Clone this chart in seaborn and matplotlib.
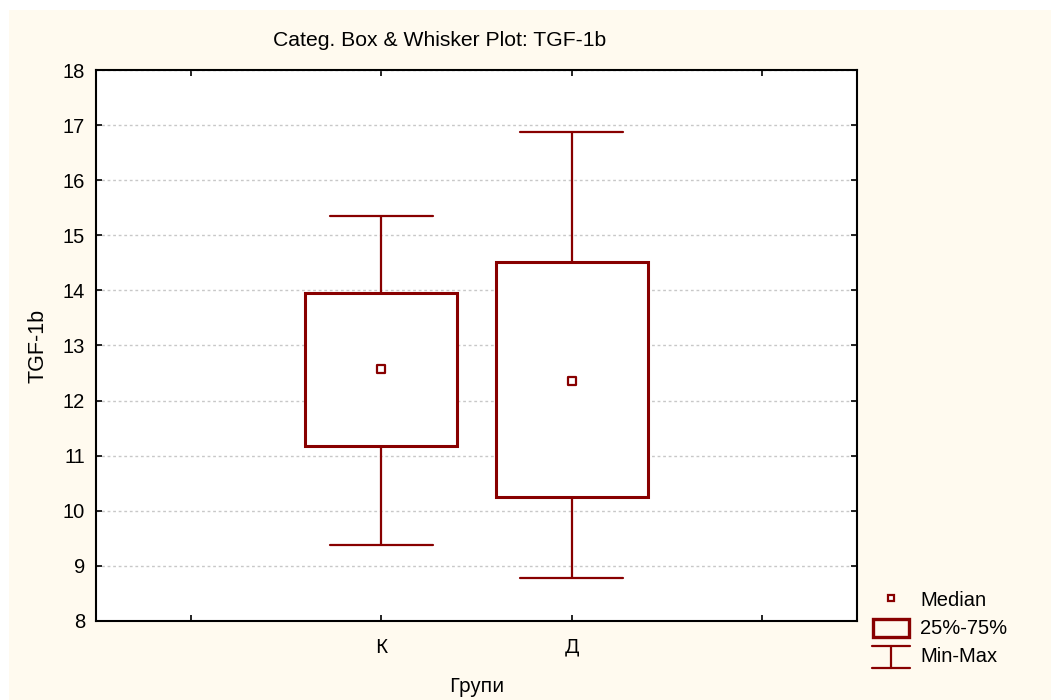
import numpy as np
import pandas as pd
import seaborn as sns
import matplotlib.pyplot as plt
from matplotlib.patches import Rectangle
from matplotlib.lines import Line2D

# Box & whisker summary: min, q1, median, q3, max
groups = ['К', 'Д']
k_stats = [9.38, 11.18, 12.57, 13.95, 15.35]
d_stats = [8.78, 10.25, 12.36, 14.52, 16.87]
medians = [k_stats[2], d_stats[2]]
y_ticks = list(range(8, 19))

dark_red = '#880000'
cream = '#FFFAEF'

# five points per group give exactly these quartiles with linear interpolation
df = pd.DataFrame({
    'group': ['К'] * 5 + ['Д'] * 5,
    'TGF-1b': k_stats + d_stats,
})
med_df = pd.DataFrame({'group': groups, 'median': medians})

sns.set_style('white')
plt.rcParams['font.family'] = ['Liberation Sans', 'DejaVu Sans']
plt.rcParams['font.size'] = 14.5
for key in ('text.color', 'axes.labelcolor', 'xtick.color', 'ytick.color'):
    plt.rcParams[key] = 'black'
cyr = ['Noto Sans', 'DejaVu Sans']

W, H = 1051, 700
fig = plt.figure(figsize=(W / 100, H / 100), dpi=100, facecolor='white')
fig.add_artist(Rectangle((9 / W, 0), 1, 1 - 10 / H, transform=fig.transFigure,
                         facecolor=cream, edgecolor='none', zorder=-10))

ax = fig.add_axes([96 / W, 1 - 621 / H, (857 - 96) / W, (621 - 70) / H])
ax.set_facecolor('white')

sns.boxplot(data=df, x='group', y='TGF-1b', order=groups, ax=ax,
            whis=(0, 100), width=0.8, color='white', linecolor=dark_red,
            capwidths=0.54,
            boxprops={'linewidth': 2.2},
            whiskerprops={'linewidth': 1.6},
            capprops={'linewidth': 1.6},
            medianprops={'visible': False})

sns.scatterplot(data=med_df, x='group', y='median', ax=ax, marker='s', s=36,
                color='white', edgecolor=dark_red, linewidth=1.6, zorder=5,
                legend=False)

ax.set_xlim(-1.5, 2.5)
ax.set_ylim(8, 18)
ax.set_xticks([-1, 0, 1, 2])
ax.set_xticklabels(['', 'К', 'Д', ''], family=cyr, fontsize=14)
ax.set_yticks(y_ticks)
ax.set_yticklabels([str(t) for t in y_ticks])
ax.yaxis.grid(True, color='#C8C8C8', linestyle=(0, (2, 2)), linewidth=1)
ax.xaxis.grid(False)
ax.set_axisbelow(True)

for s in ax.spines.values():
    s.set_visible(True)
    s.set_color('black')
    s.set_linewidth(1.5)
ax.tick_params(direction='in', length=4, width=1.2, top=True, right=True,
               left=True, bottom=True, colors='black')
ax.tick_params(axis='y', pad=8)
ax.tick_params(axis='x', pad=12)

ax.set_xlabel('Групи', labelpad=14, family=cyr, fontsize=14)
ax.set_ylabel('TGF-1b', labelpad=10, fontsize=15.5)
fig.text(440 / W, 1 - 40 / H, 'Categ. Box & Whisker Plot: TGF-1b',
         ha='center', va='center', fontsize=15.2)

# legend drawn in figure pixels
def fx(x):
    return x / W

def fy(y):
    return 1 - y / H

fig.add_artist(Line2D([fx(891)], [fy(598)], marker='s', markersize=5,
                      markerfacecolor='white', markeredgecolor=dark_red,
                      markeredgewidth=1.6, linestyle='none',
                      transform=fig.transFigure))
fig.add_artist(Rectangle((fx(873), fy(637)), (909 - 873) / W, (637 - 619) / H,
                         transform=fig.transFigure, facecolor='none',
                         edgecolor=dark_red, linewidth=2.4))
for yy in (646, 668):
    fig.add_artist(Line2D([fx(872), fx(910)], [fy(yy), fy(yy)], color=dark_red,
                          linewidth=1.6, transform=fig.transFigure))
fig.add_artist(Line2D([fx(891), fx(891)], [fy(646), fy(668)], color=dark_red,
                      linewidth=1.6, transform=fig.transFigure))
for txt, yy in (('Median', 601), ('25%-75%', 629), ('Min-Max', 657)):
    fig.text(fx(920), fy(yy), txt, ha='left', va='center')

fig.savefig('out.png', dpi=100, facecolor=fig.get_facecolor())
